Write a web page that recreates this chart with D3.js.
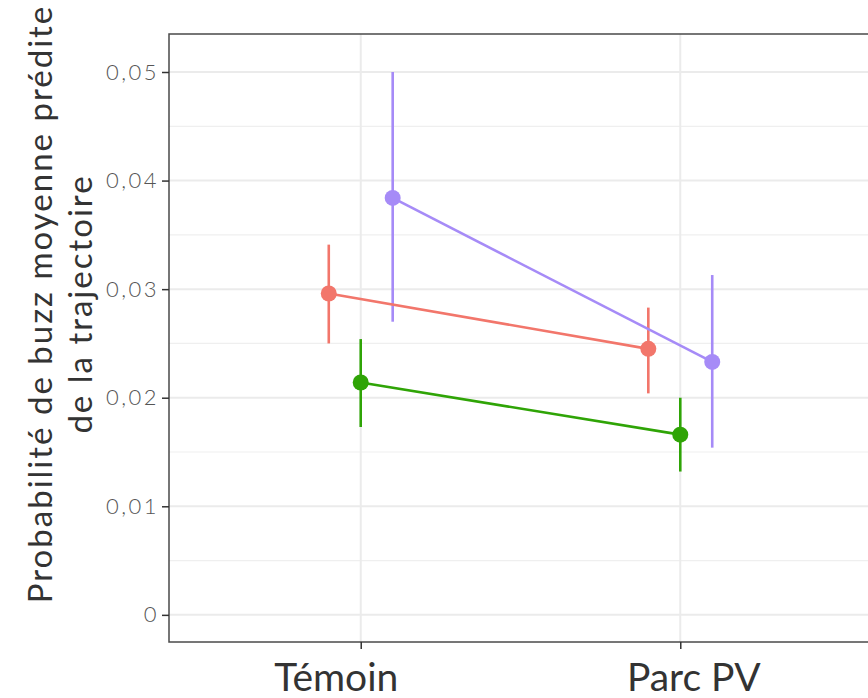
<!DOCTYPE html>
<html>
<head>
<meta charset="utf-8">
<script src="https://cdn.jsdelivr.net/npm/d3@7"></script>
<style>
  body { margin: 0; background: #fff; }
  svg { display: block; font-family: Lato, 'Open Sans', sans-serif; }
</style>
</head>
<body>
<div class="Canvas"></div>
<script>
// data
const categories = ['Témoin', 'Parc PV'];
const seriesNames = ['rouge', 'vert', 'violet'];
const seriesColors = ['#F2766B', '#2FA406', '#A68BF7'];
const meanValues = [
    [0.0296, 0.0245],
    [0.0214, 0.0166],
    [0.0384, 0.0233],
];
const lowValues = [
    [0.0250, 0.0204],
    [0.0173, 0.0132],
    [0.0270, 0.0154],
];
const highValues = [
    [0.0341, 0.0283],
    [0.0254, 0.0200],
    [0.0500, 0.0313],
];
const yTicks = [0, 0.01, 0.02, 0.03, 0.04, 0.05];
const yTickLabels = ['0', '0,01', '0,02', '0,03', '0,04', '0,05'];
const yTitleLines = ['Probabilité de buzz  moyenne prédite', 'de la trajectoire'];

const width = 868;
const height = 698;
const panel = { left: 169, right: 872, top: 34, bottom: 642 };
const dodge = 0.1; // fraction of step
const pointRadius = 8;
const markStroke = 2.6;

let svg = d3.select('.Canvas').append('svg').attr('width', width).attr('height', height);

let x = d3.scalePoint().domain(categories).range([panel.left, panel.right]).padding(0.6);
let y = d3.scaleLinear().domain([-0.0025, 0.0535]).range([panel.bottom, panel.top]);
const offsetOf = (i) => (i - 1) * dodge * x.step();

let g = svg.append('g');

// minor grid
let minorTicks = d3.range(0.005, 0.055, 0.01);
g.selectAll('line.minor')
    .data(minorTicks)
    .enter()
    .append('line')
    .attr('x1', panel.left)
    .attr('x2', panel.right)
    .attr('y1', (d) => y(d))
    .attr('y2', (d) => y(d))
    .attr('stroke', '#EFEFEF')
    .attr('stroke-width', 1.2);

// major grid
g.selectAll('line.major')
    .data(yTicks)
    .enter()
    .append('line')
    .attr('x1', panel.left)
    .attr('x2', panel.right)
    .attr('y1', (d) => y(d))
    .attr('y2', (d) => y(d))
    .attr('stroke', '#EBEBEB')
    .attr('stroke-width', 2);
g.selectAll('line.vmajor')
    .data(categories)
    .enter()
    .append('line')
    .attr('x1', (d) => x(d))
    .attr('x2', (d) => x(d))
    .attr('y1', panel.top)
    .attr('y2', panel.bottom)
    .attr('stroke', '#EBEBEB')
    .attr('stroke-width', 2);

// series
let series = seriesNames.map((name, i) => ({
    name: name,
    color: seriesColors[i],
    points: categories.map((c, j) => ({
        cat: c,
        mean: meanValues[i][j],
        lo: lowValues[i][j],
        hi: highValues[i][j],
        px: x(c) + offsetOf(i),
    })),
}));

let line = d3.line().x((d) => d.px).y((d) => y(d.mean));

series.forEach((s) => {
    g.append('g')
        .selectAll('line')
        .data(s.points)
        .enter()
        .append('line')
        .attr('x1', (d) => d.px)
        .attr('x2', (d) => d.px)
        .attr('y1', (d) => y(d.lo))
        .attr('y2', (d) => y(d.hi))
        .attr('stroke', s.color)
        .attr('stroke-width', markStroke);
});
series.forEach((s) => {
    g.append('path')
        .datum(s.points)
        .attr('d', line)
        .attr('fill', 'none')
        .attr('stroke', s.color)
        .attr('stroke-width', markStroke);
});
series.forEach((s) => {
    g.append('g')
        .selectAll('circle')
        .data(s.points)
        .enter()
        .append('circle')
        .attr('cx', (d) => d.px)
        .attr('cy', (d) => y(d.mean))
        .attr('r', pointRadius)
        .attr('fill', s.color);
});

// panel border
svg.append('rect')
    .attr('x', panel.left)
    .attr('y', panel.top)
    .attr('width', panel.right - panel.left)
    .attr('height', panel.bottom - panel.top)
    .attr('fill', 'none')
    .attr('stroke', '#4a4a4a')
    .attr('stroke-width', 1.5);

// y axis
let yAxis = svg
    .append('g')
    .attr('transform', `translate(${panel.left},0)`)
    .call(
        d3.axisLeft(y)
            .tickValues(yTicks)
            .tickSize(7)
            .tickPadding(3)
            .tickFormat((d, i) => yTickLabels[i])
    );
yAxis.select('.domain').remove();
yAxis.selectAll('.tick line').attr('stroke', '#333').attr('stroke-width', 1.5);
yAxis.selectAll('.tick text')
    .attr('fill', '#555')
    .attr('font-size', '22px')
    .attr('font-weight', 300)
    .attr('letter-spacing', '2.5px')
    .attr('font-family', 'Lato, sans-serif');

// x axis
const xLabelShift = { 'Témoin': -25, 'Parc PV': 13 };
let xAxis = svg
    .append('g')
    .attr('transform', `translate(0,${panel.bottom})`)
    .call(d3.axisBottom(x).tickSize(7).tickPadding(14));
xAxis.select('.domain').remove();
xAxis.selectAll('.tick line').attr('stroke', '#333').attr('stroke-width', 1.5);
xAxis.selectAll('.tick text')
    .attr('fill', '#333')
    .attr('font-size', '39px')
    .attr('font-family', 'Lato, sans-serif')
    .attr('dx', (d) => xLabelShift[d]);

// y title
let yTitle = svg
    .append('text')
    .attr('transform', `translate(52,304) rotate(-90)`)
    .attr('text-anchor', 'middle')
    .attr('fill', '#333')
    .attr('font-size', '33px')
    .attr('letter-spacing', '2px')
    .attr('font-family', 'Lato, sans-serif');
yTitle.append('tspan').attr('x', 0).attr('y', 0).text(yTitleLines[0]);
yTitle.append('tspan').attr('x', 0).attr('y', 40).text(yTitleLines[1]);
</script>
</body>
</html>
